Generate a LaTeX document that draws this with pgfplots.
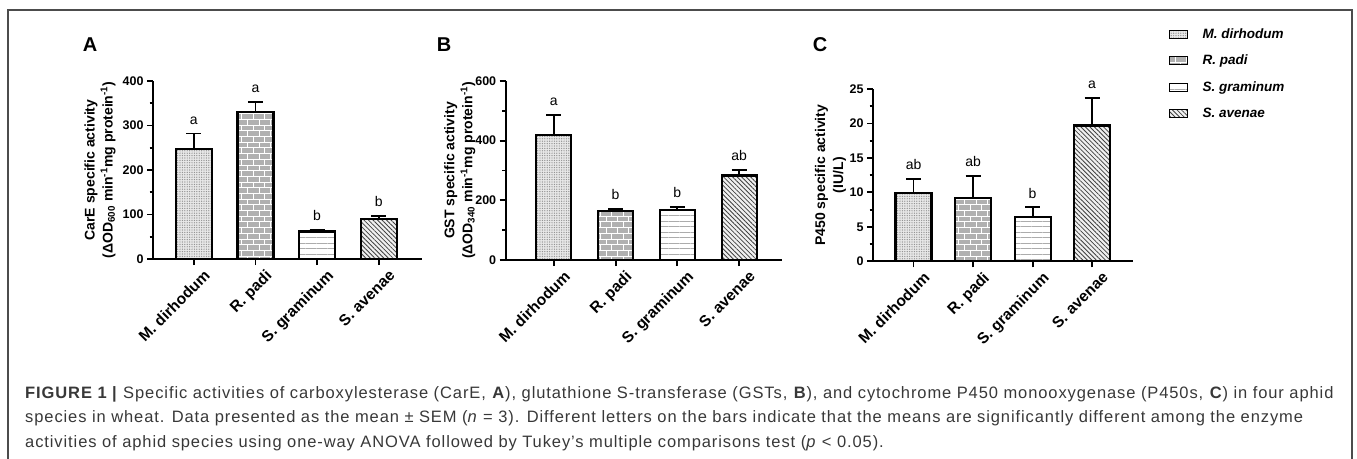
\documentclass[border=0pt]{standalone}
\usepackage{fontspec}
\setmainfont{Liberation Sans}
\newfontfamily\capfont{Liberation Sans}[LetterSpace=5.5]
\usepackage{pgfplots}
\pgfplotsset{compat=1.18}
\usetikzlibrary{patterns,patterns.meta}

% bar fills, one per aphid species
\tikzset{
  mdir/.style={fill=gray!18, postaction={pattern={Dots[distance=2.4pt, radius=0.7pt]}, pattern color=gray!85}},
  rpad/.style={fill=gray!62, postaction={pattern=bricks, pattern color=white}},
  sgra/.style={fill=white, postaction={pattern={Lines[angle=0, distance=5.5pt, line width=1pt]}, pattern color=gray!65}},
  save/.style={fill=gray!12, postaction={pattern={Lines[angle=-45, distance=3.2pt, line width=0.8pt]}, pattern color=black!75}},
}

\pgfplotsset{
  panel/.style={
    scale only axis, anchor=south west, clip=false,
    axis x line*=bottom, axis y line*=left,
    axis line style={-, line width=1.8pt},
    tick align=outside,
    major tick length=6pt, minor tick length=3.5pt,
    tick style={line width=1.8pt, black},
    xtick={0,1,2,3},
    xticklabels={M. dirhodum, R. padi, S. graminum, S. avenae},
    x tick label style={rotate=45, anchor=north east, inner sep=0pt, xshift=4pt, yshift=-9pt,
      font=\bfseries\fontsize{15.5}{17}\selectfont},
    y tick label style={font=\bfseries\fontsize{12.5}{14}\selectfont},
    /pgf/number format/assume math mode=true,
    minor y tick num=1,
    ymin=0,
    ylabel style={font=\bfseries\fontsize{14}{18}\selectfont, align=center, anchor=center},
    error bars/y dir=plus, error bars/y explicit,
    error bars/error bar style={line width=1.8pt, black},
    error bars/error mark options={rotate=90, line width=1.8pt, mark size=7.5pt, black},
  },
  bar/.style={ybar, bar width=#1, draw=black, line width=2.2pt},
  letters/.style={draw=none, mark=none, forget plot,
    nodes near coords, point meta=explicit symbolic,
    nodes near coords style={font=\fontsize{14}{16}\selectfont, anchor=south, inner sep=0pt, yshift=9pt}},
}

\begin{document}
\begin{tikzpicture}
\path[use as bounding box] (0,0) rectangle (1357pt,-458pt);
\draw[black!70, line width=1.3pt] (8pt,-470pt) -- (8pt,-10pt) -- (1352pt,-10pt) -- (1352pt,-470pt);

% panel labels
\node[font=\bfseries\fontsize{20}{22}\selectfont] at (90pt,-45pt) {A};
\node[font=\bfseries\fontsize{20}{22}\selectfont] at (444pt,-45pt) {B};
\node[font=\bfseries\fontsize{20}{22}\selectfont] at (820pt,-45pt) {C};

% A: CarE
\begin{axis}[panel, at={(153pt,-259pt)}, width=269pt, height=178pt,
  xmin=-0.66, xmax=3.70, ymax=400, ytick={0,100,200,300,400},
  ylabel={CarE specific activity\\(ΔOD\textsubscript{600} min\textsuperscript{-1}mg protein\textsuperscript{-1})},
  ylabel style={at={(axis description cs:-0.197,0.5)}}]
\addplot[bar=36pt, mdir] coordinates {(0,248) +- (0,34)};
\addplot[bar=36pt, rpad] coordinates {(1,330) +- (0,23)};
\addplot[bar=36pt, sgra] coordinates {(2,62) +- (0,4)};
\addplot[bar=36pt, save] coordinates {(3,90) +- (0,6)};
\addplot[letters] coordinates {(0,282)[a] (1,353)[a] (2,66)[b] (3,96)[b]};
\end{axis}

% B: GST
\begin{axis}[panel, at={(505.7pt,-260pt)}, width=276pt, height=179pt,
  xmin=-0.78, xmax=3.69, ymax=600, ytick={0,200,400,600},
  ylabel={GST specific activity\\(ΔOD\textsubscript{340} min\textsuperscript{-1}mg protein\textsuperscript{-1})},
  ylabel style={at={(axis description cs:-0.166,0.5)}}]
\addplot[bar=35pt, mdir] coordinates {(0,418) +- (0,68)};
\addplot[bar=35pt, rpad] coordinates {(1,165) +- (0,6)};
\addplot[bar=35pt, sgra] coordinates {(2,168) +- (0,11)};
\addplot[bar=35pt, save] coordinates {(3,283) +- (0,20)};
\addplot[letters] coordinates {(0,486)[a] (1,171)[b] (2,179)[b] (3,303)[ab]};
\end{axis}

% C: P450
\begin{axis}[panel, at={(873.1pt,-261.3pt)}, width=259.5pt, height=172.3pt,
  xmin=-0.68, xmax=3.68, ymax=25, ytick={0,5,10,15,20,25},
  ylabel={P450 specific activity\\(IU/L)},
  ylabel style={at={(axis description cs:-0.164,0.5)}},
  legend style={at={(1.138,1.364)}, anchor=north west, draw=none, fill=none,
    inner sep=0pt, row sep=11.4pt, font=\bfseries\itshape\fontsize{13.5}{16}\selectfont,
    /tikz/every odd column/.append style={column sep=13pt}},
  legend cell align=left,
  legend image code/.code={\draw[#1, line width=1pt] (0pt,-4pt) rectangle (18pt,4pt);}]
\addplot[bar=36pt, mdir] coordinates {(0,9.96) +- (0,1.94)};
\addplot[bar=36pt, rpad] coordinates {(1,9.19) +- (0,3.2)};
\addplot[bar=36pt, sgra] coordinates {(2,6.48) +- (0,1.35)};
\addplot[bar=36pt, save] coordinates {(3,19.7) +- (0,4.0)};
\addplot[letters] coordinates {(0,11.9)[ab] (1,12.4)[ab] (2,7.83)[b] (3,23.7)[a]};
\legend{M. dirhodum, R. padi, S. graminum, S. avenae}
\end{axis}

% caption
\begin{scope}[every node/.style={anchor=base west, inner sep=0pt, text=black!78, font=\capfont\fontsize{16.5}{18}\selectfont}]
\node at (25pt,-398pt) {\textbf{FIGURE 1 |} Specific activities of carboxylesterase (CarE, \textbf{A}), glutathione S-transferase (GSTs, \textbf{B}), and cytochrome P450 monooxygenase (P450s, \textbf{C}) in four aphid};
\node at (25pt,-422pt) {species in wheat. Data presented as the mean ± SEM (\textit{n} = 3). Different letters on the bars indicate that the means are significantly different among the enzyme};
\node at (25pt,-447pt) {activities of aphid species using one-way ANOVA followed by Tukey’s multiple comparisons test (\textit{p} < 0.05).};
\end{scope}
\end{tikzpicture}
\end{document}
